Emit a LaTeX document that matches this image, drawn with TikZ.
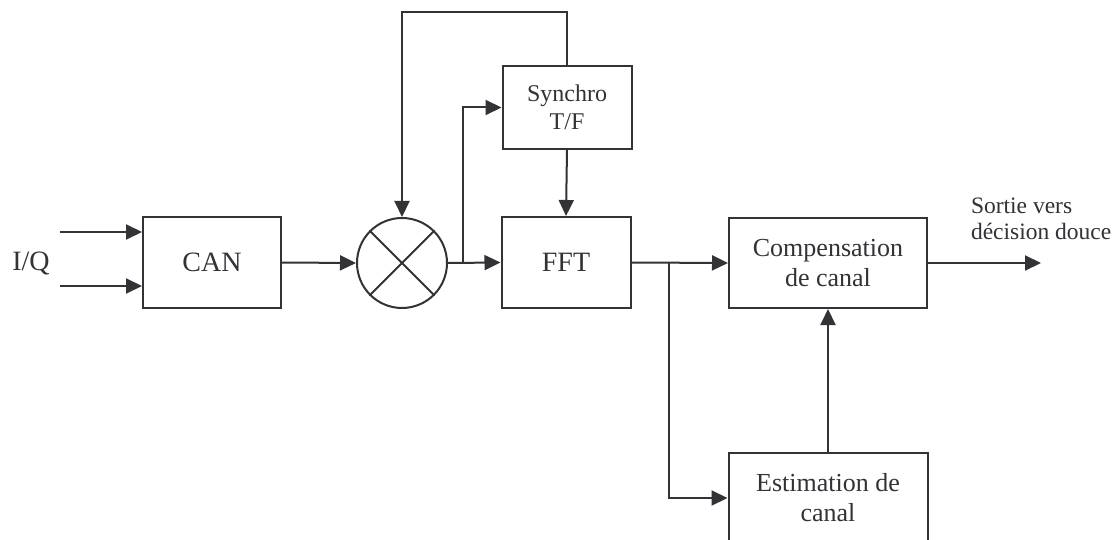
\documentclass[tikz,border=0pt]{standalone}
\usepackage{fontspec}
\setmainfont{Liberation Serif}
\usetikzlibrary{arrows.meta}
\definecolor{ink}{RGB}{50,50,55}
\begin{document}
\begin{tikzpicture}[x=1pt,y=-1pt,line width=2pt,
  block/.style={draw=ink,line width=2pt,rectangle,inner sep=0pt,align=center,text=ink},
  arr/.style={draw=ink,-{Triangle[length=16pt,width=15pt]}},
  big/.style={font=\fontsize{28}{32}\selectfont},
  mid/.style={font=\fontsize{26}{30}\selectfont},
  sml/.style={font=\fontsize{24}{28}\selectfont}]
\clip (0,0) rectangle (1119,540);
\fill[white] (0,0) rectangle (1119,540);
% blocks
\node[block,big,minimum width=138pt,minimum height=91pt] (can) at (212,262.5) {CAN};
\node[draw=ink,circle,minimum size=90pt,inner sep=0pt] (mix) at (402,263) {};
\draw[ink] (mix.north west) -- (mix.south east);
\draw[ink] (mix.north east) -- (mix.south west);
\node[block,sml,minimum width=129pt,minimum height=83pt] (syn) at (567,107.5) {Synchro\\T/F};
\node[block,big,minimum width=129pt,minimum height=91pt] (fft) at (566,262.5) {FFT};
\node[block,mid,minimum width=198pt,minimum height=90pt] (comp) at (828,263) {Compensation\\de canal};
\node[block,mid,minimum width=199pt,minimum height=90pt] (est) at (828,498) {Estimation de\\canal};
% texts
\node[big,text=ink,inner sep=0pt] (iq) at (31,263) {I/Q};
\node[text=ink,inner sep=0pt,align=left,anchor=north west,font=\fontsize{23.5}{26}\selectfont] (out) at (970,197) {Sortie vers\\décision douce};
% coordinates
\coordinate (i1) at (60,232);
\coordinate (i2) at (60,286);
\coordinate (o) at (1041,263);
\coordinate (b1) at (463,263);
\coordinate (b2) at (669,263);
\coordinate (fb) at (402,12);
% connectors
\draw[arr] (i1) -- (i1 -| can.west);
\draw[arr] (i2) -- (i2 -| can.west);
\draw[arr] (can.east) -- (mix.west);
\draw[arr] (mix.east) -- (fft.west);
\draw[arr] (b1) |- (syn.west);
\draw[arr] (syn.north) |- (fb) -- (mix.north);
\draw[arr] (syn.south) -- (fft.north);
\draw[arr] (fft.east) -- (comp.west);
\draw[arr] (b2) |- (est.west);
\draw[arr] (est.north) -- (comp.south);
\draw[arr] (comp.east) -- (o);
\end{tikzpicture}
\end{document}
